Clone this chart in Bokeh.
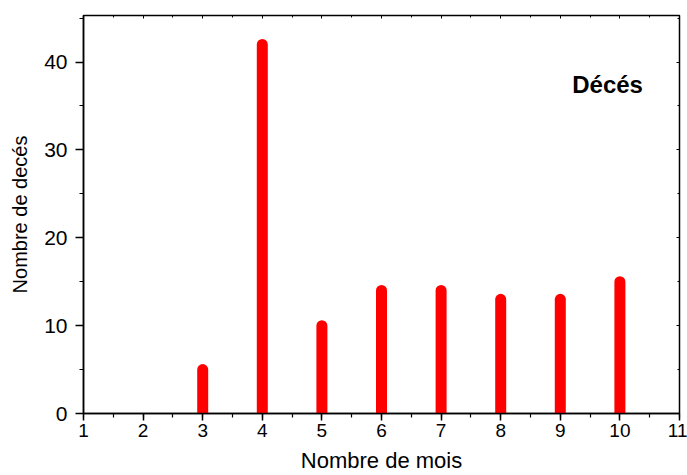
from bokeh.plotting import figure
from bokeh.models import LinearAxis, SingleIntervalTicker, Range1d, Label, ColumnDataSource, CustomJSTickFormatter
from bokeh.embed import file_html
from bokeh.resources import INLINE

months = [3, 4, 5, 6, 7, 8, 9, 10]
deaths = [5, 42, 10, 14, 14, 13, 13, 15]
x_label = "Nombre de mois"
y_label = "Nombre de decés"
legend_text = "Décés"

FONT = "Liberation Sans"

p = figure(width=687, height=475, output_backend="svg", toolbar_location=None,
           x_range=Range1d(1, 11), y_range=Range1d(0, 45.3),
           x_axis_type=None, y_axis_type=None,
           min_border_left=83, min_border_right=8, min_border_top=15, min_border_bottom=62)
p.grid.visible = False
p.background_fill_color = "white"
p.border_fill_color = "white"
p.outline_line_color = "black"
p.outline_line_width = 1.5

src = ColumnDataSource(dict(x=months, y0=[0] * len(months), y1=deaths))
p.segment(x0="x", y0="y0", x1="x", y1="y1", source=src, line_width=11,
          line_cap="round", line_color="#ff0000")

def style(ax):
    ax.axis_line_width = 1.5
    ax.major_tick_line_width = 1.5
    ax.minor_tick_line_width = 1.2
    ax.major_tick_out = 7
    ax.major_tick_in = 0
    ax.minor_tick_out = 4
    ax.minor_tick_in = 0
    ax.major_label_text_font = FONT
    ax.major_label_text_color = "black"
    ax.axis_label_text_font = FONT
    ax.axis_label_text_font_style = "normal"
    ax.axis_label_text_color = "black"

xt = SingleIntervalTicker(interval=1, num_minor_ticks=2)
yt = SingleIntervalTicker(interval=10, num_minor_ticks=2)

xb = LinearAxis(ticker=xt, axis_label=x_label)
style(xb)
xb.major_label_text_font_size = "19px"
xb.axis_label_text_font_size = "22px"
xb.major_label_standoff = 3
xb.axis_label_standoff = 8
p.add_layout(xb, "below")

yl = LinearAxis(ticker=yt, axis_label=y_label)
style(yl)
yl.major_label_text_font_size = "21px"
yl.axis_label_text_font_size = "20px"
yl.major_tick_out = 8
yl.major_label_standoff = 8
yl.axis_label_standoff = 10
p.add_layout(yl, "left")

blank = CustomJSTickFormatter(code="return ''")
for loc, tk in (("above", SingleIntervalTicker(interval=1, num_minor_ticks=2)),
                ("right", SingleIntervalTicker(interval=10, num_minor_ticks=2))):
    ax = LinearAxis(ticker=tk, formatter=blank)
    ax.axis_line_color = None
    ax.major_label_standoff = 0
    ax.major_tick_out = 0
    ax.major_tick_in = 3
    ax.minor_tick_out = 0
    ax.minor_tick_in = 2
    ax.major_tick_line_width = 1
    ax.minor_tick_line_width = 1
    p.add_layout(ax, loc)

p.add_layout(Label(x=9.2, y=37.4, text=legend_text, text_font=FONT,
                   text_font_size="24px", text_font_style="bold",
                   text_baseline="middle", text_color="black"))

open("out.html", "w").write(file_html(p, INLINE))
